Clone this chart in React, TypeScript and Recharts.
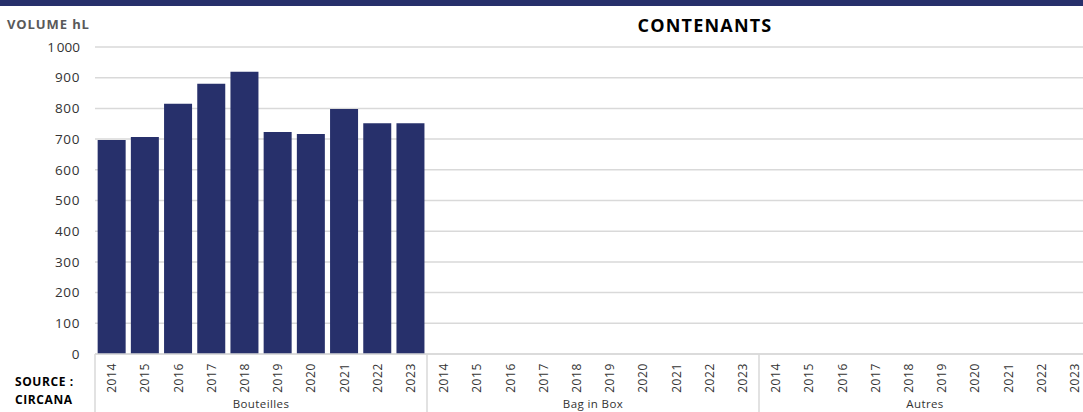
import React from 'react';
import { BarChart, Bar, XAxis, YAxis, CartesianGrid } from 'recharts';

const groups = ['Bouteilles', 'Bag in Box', 'Autres'];
const years = ['2014', '2015', '2016', '2017', '2018', '2019', '2020', '2021', '2022', '2023'];
const bouteilles = [697, 707, 815, 880, 919, 723, 717, 798, 752, 752];
const bagInBox: (number | null)[] = [null, null, null, null, null, null, null, null, null, null];
const autres: (number | null)[] = [null, null, null, null, null, null, null, null, null, null];
const yTicks = [0, 100, 200, 300, 400, 500, 600, 700, 800, 900, 1000];

const seriesByGroup = [bouteilles, bagInBox, autres];
const data = groups.flatMap((g, gi) =>
  years.map((y, yi) => ({ key: `${g}|${y}`, group: g, year: y, value: seriesByGroup[gi][yi] }))
);

const FONT = "'Open Sans', 'Noto Sans', sans-serif";
const NAVY = '#27306b';
const GRID = '#d9d9d9';

const YearTick = (props: any) => {
  const { x, y, payload, index } = props;
  const half = payload && payload.offset ? payload.offset : 16.6;
  const year = String(payload.value).split('|')[1];
  return (
    <g>
      {index % 10 === 0 && (
        <line x1={x - half} x2={x - half} y1={y - 9} y2={412} stroke={GRID} strokeWidth={1.5} />
      )}
      <text
        x={x}
        y={y}
        transform={`rotate(-90 ${x} ${y})`}
        textAnchor="end"
        dominantBaseline="central"
        fontSize={12}
        letterSpacing={0.6}
        fill="#333"
        fontFamily={FONT}
      >
        {year}
      </text>
    </g>
  );
};

const GroupTick = (props: any) => {
  const { x, y, payload, index } = props;
  if (index % 10 !== 0) return <g />;
  const half = payload && payload.offset ? payload.offset : 16.6;
  const group = String(payload.value).split('|')[0];
  return (
    <text x={x + 9 * half} y={y + 4} textAnchor="middle" dominantBaseline="hanging" fontSize={11.5} letterSpacing={0.4} fill="#333" fontFamily={FONT}>
      {group}
    </text>
  );
};

export default function App() {
  return (
    <div style={{ position: 'absolute', left: 0, top: 0, width: 1083, height: 412, overflow: 'hidden', background: '#fff', fontFamily: FONT }}>
      <div style={{ position: 'absolute', left: 0, top: 0, width: 1083, height: 6, background: NAVY }} />
      <div style={{ position: 'absolute', left: 7, top: 15, fontSize: 13, fontWeight: 700, color: '#595959', letterSpacing: 0.9 }}>VOLUME hL</div>
      <div style={{ position: 'absolute', left: 500, width: 410, textAlign: 'center', top: 13, fontSize: 18, fontWeight: 700, color: '#000', letterSpacing: 1.2 }}>CONTENANTS</div>
      <div style={{ position: 'absolute', left: 15, top: 373, fontSize: 12, fontWeight: 700, color: '#000', lineHeight: '18px', letterSpacing: 0.6 }}>
        SOURCE :<br />CIRCANA
      </div>
      <div style={{ position: 'absolute', left: 0, top: 0 }}>
        <BarChart width={1091} height={412} data={data} margin={{ top: 47, right: 0, bottom: 0, left: 0 }} barCategoryGap="8%">
          <CartesianGrid horizontal vertical={false} stroke={GRID} strokeWidth={1.5} />
          <XAxis
            dataKey="key"
            interval={0}
            height={40}
            tickSize={0}
            tickMargin={9}
            tickLine={false}
            axisLine={{ stroke: GRID, strokeWidth: 1.5 }}
            tick={<YearTick />}
          />
          <XAxis
            xAxisId="group"
            dataKey="key"
            interval={0}
            height={18}
            tickSize={0}
            tickMargin={0}
            tickLine={false}
            axisLine={false}
            tick={<GroupTick />}
          />
          <YAxis
            width={95}
            domain={[0, 1000]}
            ticks={yTicks}
            interval={0}
            axisLine={false}
            tickLine={false}
            tickSize={0}
            tickMargin={15}
            tick={{ fontSize: 13.5, fill: '#333', fontFamily: FONT, letterSpacing: 0.6 }}
            tickFormatter={(v: number) => (v >= 1000 ? '1\u202f000' : String(v))}
          />
          <Bar dataKey="value" fill={NAVY} isAnimationActive={false} />
        </BarChart>
      </div>
    </div>
  );
}
